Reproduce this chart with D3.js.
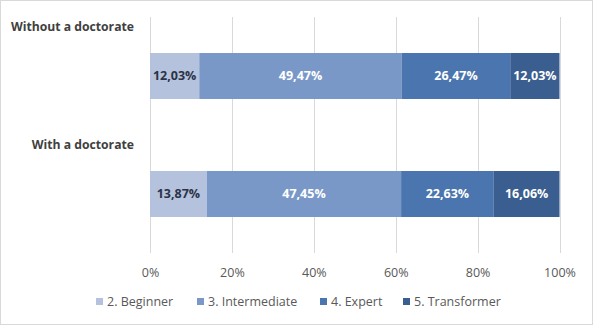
<!DOCTYPE html>
<html><head><meta charset="utf-8">
<script src="https://cdn.jsdelivr.net/npm/d3@7"></script>
<style>
html,body{margin:0;padding:0;background:#fff;}
svg{display:block;font-family:"Open Sans","Liberation Sans",sans-serif;}
</style></head>
<body><svg id="c" width="594" height="326"></svg>
<script>
const categories = ["Without a doctorate", "With a doctorate"];
const seriesNames = ["2. Beginner", "3. Intermediate", "4. Expert", "5. Transformer"];
const beginner = [12.03, 13.87];
const intermediate = [49.47, 47.45];
const expert = [26.47, 22.63];
const transformer = [12.03, 16.06];
const tickValues = [0, 20, 40, 60, 80, 100];
const colors = ["#b4c2dd", "#7a98c7", "#4a75ae", "#3a5e8f"];
const labelColors = ["#2b3346", "#ffffff", "#ffffff", "#ffffff"];

const svg = d3.select("#c");
svg.append("rect").attr("x",0.5).attr("y",0.5).attr("width",592).attr("height",324)
  .attr("fill","#fff").attr("stroke","#d9d9d9");

const x = d3.scaleLinear().domain([0,100]).range([150,559.5]);
const y = d3.scaleBand().domain(categories).range([17,253]);
const barH = 46;

// gridlines
svg.append("g").selectAll("line").data(tickValues).join("line")
  .attr("x1",d=>Math.round(x(d))+0.5).attr("x2",d=>Math.round(x(d))+0.5)
  .attr("y1",17).attr("y2",253).attr("stroke","#d9d9d9").attr("stroke-width",1);

// axis labels
const ax = d3.axisBottom(x).tickValues(tickValues).tickSize(0).tickFormat(d=>d+"%");
const axG = svg.append("g").attr("transform","translate(0,265)").call(ax);
axG.select(".domain").remove();
axG.selectAll("text").attr("fill","#595959").attr("font-size","12.5px")
  .attr("font-family","'Open Sans','Liberation Sans',sans-serif").attr("dy","0.71em");

const series = [beginner, intermediate, expert, transformer];
const rows = categories.map((c,i)=>{
  const o = {cat:c};
  seriesNames.forEach((s,j)=>o[s]=series[j][i]);
  return o;
});
const stack = d3.stack().keys(seriesNames)(rows);

stack.forEach((layer,j)=>{
  const g = svg.append("g");
  g.selectAll("rect").data(layer).join("rect")
    .attr("x",d=>x(d[0])).attr("width",d=>x(d[1])-x(d[0]))
    .attr("y",d=>y(d.data.cat)+y.bandwidth()/2-barH/2).attr("height",barH)
    .attr("fill",colors[j]);
  g.selectAll("text").data(layer).join("text")
    .attr("x",d=>(x(d[0])+x(d[1]))/2)
    .attr("y",d=>y(d.data.cat)+y.bandwidth()/2)
    .attr("dy","0.35em").attr("text-anchor","middle")
    .attr("font-size","12.5px").attr("font-weight","bold")
    .attr("fill",labelColors[j])
    .text(d=>(d[1]-d[0]).toFixed(2).replace(".",",")+"%");
});

// category labels
svg.append("g").selectAll("text").data(categories).join("text")
  .attr("x",134).attr("y",d=>y(d)+14)
  .attr("text-anchor","end").attr("font-size","12.2px").attr("font-weight","bold")
  .attr("fill","#404040").text(d=>d);

// legend
const legX = [96, 197, 320, 403];
const lg = svg.append("g").selectAll("g").data(seriesNames).join("g")
  .attr("transform",(d,i)=>`translate(${legX[i]},302)`);
lg.append("rect").attr("x",0).attr("y",-4).attr("width",7).attr("height",7)
  .attr("fill",(d,i)=>colors[i]);
lg.append("text").attr("x",11).attr("y",0).attr("dy","0.35em")
  .attr("font-size","12.5px").attr("fill","#595959").text(d=>d);
</script></body></html>
